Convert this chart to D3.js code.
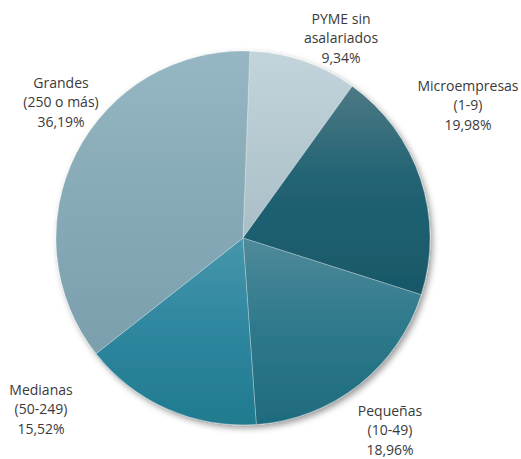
<!DOCTYPE html>
<html>
<head>
<meta charset="utf-8">
<script src="https://cdn.jsdelivr.net/npm/d3@7"></script>
<style>
  html, body { margin: 0; padding: 0; background: #ffffff; }
  svg { display: block; }
  text { font-family: "Open Sans", "Noto Sans", sans-serif; font-size: 14px; fill: #3a3a3a; }
</style>
</head>
<body>
<svg id="chart" width="521" height="459"></svg>
<script>
// ---- data ----
const categories = ["PYME sin asalariados", "Microempresas (1-9)", "Pequeñas (10-49)", "Medianas (50-249)", "Grandes (250 o más)"];
const labelLines = [["PYME sin", "asalariados"], ["Microempresas", "(1-9)"], ["Pequeñas", "(10-49)"], ["Medianas", "(50-249)"], ["Grandes", "(250 o más)"]];
const values = [9.34, 19.98, 18.96, 15.52, 36.19];
const valueLabels = ["9,34%", "19,98%", "18,96%", "15,52%", "36,19%"];

// ---- styles / layout ----
const gradTop    = ["#c3d4db", "#4d7985", "#4f8a9a", "#4796ab", "#96b6c3"];
const gradMid    = ["#b7cad2", "#216373", "#2f7a8c", "#2f88a0", "#88abb8"];
const gradBottom = ["#a9bfc7", "#185868", "#1e6b7d", "#217a8f", "#7a9fad"];
const labelCenter = [[341, 38], [468, 105], [390, 430], [41, 409], [61, 102]];

const svg = d3.select("#chart");
const cx = 243, cy = 238, r = 187;
const startOffset = 2.1 * Math.PI / 180;

const defs = svg.append("defs");
const f = defs.append("filter").attr("id", "shadow")
  .attr("x", "-20%").attr("y", "-20%").attr("width", "140%").attr("height", "140%");
f.append("feDropShadow").attr("dx", 2.5).attr("dy", 3).attr("stdDeviation", 3)
  .attr("flood-color", "#000").attr("flood-opacity", 0.4);

values.forEach((v, i) => {
  const g = defs.append("linearGradient").attr("id", "g" + i)
    .attr("x1", 0).attr("y1", 0).attr("x2", 0).attr("y2", 1);
  g.append("stop").attr("offset", "0%").attr("stop-color", gradTop[i]);
  g.append("stop").attr("offset", "45%").attr("stop-color", gradMid[i]);
  g.append("stop").attr("offset", "100%").attr("stop-color", gradBottom[i]);
});

const pie = d3.pie().sort(null).value(d => d)
  .startAngle(startOffset).endAngle(startOffset + 2 * Math.PI);
const arcs = pie(values);
const arc = d3.arc().innerRadius(0).outerRadius(r);

const g = svg.append("g").attr("transform", `translate(${cx},${cy})`);
g.append("g").attr("filter", "url(#shadow)")
  .selectAll("path").data(arcs).join("path")
  .attr("d", arc)
  .attr("fill", (d, i) => `url(#g${i})`)
  .attr("stroke", "rgba(255,255,255,0.35)")
  .attr("stroke-width", 0.8);

const lineH = 19.5;
arcs.forEach((d, i) => {
  const lines = labelLines[i].concat([valueLabels[i]]);
  const [lx, ly] = labelCenter[i];
  const t = svg.append("text").attr("text-anchor", "middle");
  lines.forEach((s, k) => {
    t.append("tspan").attr("x", lx).attr("y", ly + (k - 1) * lineH + 5).text(s);
  });
});
</script>
</body>
</html>
